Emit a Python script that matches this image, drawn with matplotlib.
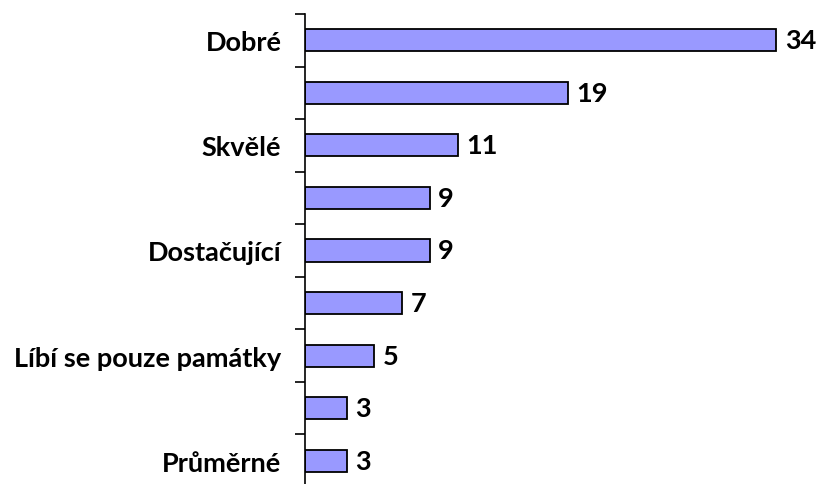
import matplotlib.pyplot as plt
import numpy as np

categories = ["Dobré", "", "Skvělé", "", "Dostačující", "", "Líbí se pouze památky", "", "Průměrné"]
values = [34, 19, 11, 9, 9, 7, 5, 3, 3]

plt.rcParams['font.family'] = ['Lato', 'DejaVu Sans']

fig = plt.figure(figsize=(8.18, 4.85), dpi=100)
ax = fig.add_axes([305 / 818, 1 - 488 / 485, 1 - 305 / 818, 473 / 485])

y = np.arange(len(values))
bars = ax.barh(y, values, height=0.42, color="#9999FF", edgecolor="black", linewidth=1.3)

ax.set_xlim(0, 37)
ax.set_ylim(len(values) - 0.5, -0.5)

for yi, v in zip(y, values):
    ax.annotate(str(v), (v, yi), xytext=(6, 0), textcoords="offset points",
                va="center", ha="left", fontsize=19.5, fontweight="bold")

ax.set_yticks(y)
ax.set_yticklabels(categories, fontsize=19.5, fontweight="bold")
ax.tick_params(axis="y", which="major", length=0, pad=17)
ax.set_yticks(np.arange(len(values) + 1) - 0.5, minor=True)
ax.tick_params(axis="y", which="minor", length=7, width=1.2, direction="out")
ax.set_xticks([])

for s in ["top", "right", "bottom"]:
    ax.spines[s].set_visible(False)
ax.spines["left"].set_linewidth(1.2)

fig.savefig("out.png", dpi=100)
